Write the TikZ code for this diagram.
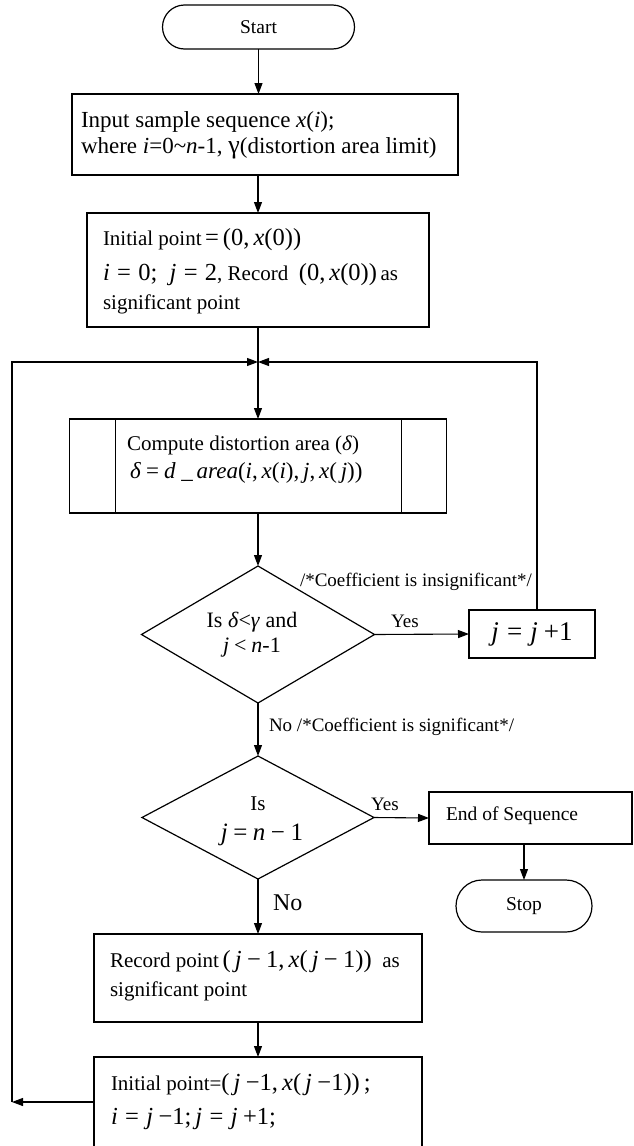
\documentclass[tikz,border=0pt]{standalone}
\usepackage{fontspec}
\setmainfont{Liberation Serif}
\usetikzlibrary{arrows.meta,shapes.geometric}
\newcommand\im[1]{\textit{#1}}
\newcommand\Mth{\fontsize{24.5}{24.5}\selectfont}
\newcommand\sq{\hspace{0.22em}}
\newcommand\wq{\hspace{0.3em}}
\begin{document}
\begin{tikzpicture}[x=1pt,y=-1pt,
  line width=1.1pt,
  every node/.style={inner sep=0pt, outer sep=0pt},
  txt/.style={font=\fontsize{21}{21}\selectfont, anchor=base west},
  lbl/.style={font=\fontsize{19}{19}\selectfont},
  box/.style={draw, rectangle, line width=1.2pt},
  term/.style={draw, rectangle, line width=1.2pt},
  dia/.style={draw, diamond, line width=1.2pt},
  arr/.style={-{Triangle[length=11pt,width=8pt]}}]
\clip (0,0) rectangle (634,1146);

% Start
\node[term, rounded corners=22pt, minimum width=192pt, minimum height=44pt,
      font=\fontsize{19.5}{19.5}\selectfont] (start) at (258.5,27) {Start};

% Input box
\node[box, minimum width=386pt, minimum height=81pt] (input) at (265,134.5) {};
\node[txt, font=\fontsize{23}{23}\selectfont] (in1) at (81,127) {Input sample sequence \im{x}(\im{i});};
\node[txt, font=\fontsize{23}{23}\selectfont] (in2) at (81,153) {where \im{i}=0\textasciitilde\im{n}-1, {\fontsize{26}{26}\selectfont γ}(distortion area limit)};

% Initial box
\node[box, minimum width=342pt, minimum height=114pt] (init) at (258,270) {};
\node[txt] (it1) at (103,245) {Initial point\,{\Mth =\,(0,\,\im{x}(0))}};
\node[txt] (it2) at (103,280) {{\Mth \im{i}\wq=\wq0;\ \ \im{j}\wq=\wq2}, Record\ \ {\Mth (0,\,\im{x}(0))}\,as};
\node[txt] (it3) at (103,309) {significant point};

% junction
\coordinate (junc) at (258,362);

% Compute box
\node[box, minimum width=377pt, minimum height=94pt] (comp) at (258,466) {};
\draw[line width=1.2pt] ([xshift=46pt]comp.north west) -- ([xshift=46pt]comp.south west);
\draw[line width=1.2pt] ([xshift=-45pt]comp.north east) -- ([xshift=-45pt]comp.south east);
\node[txt] (cp1) at (127,450) {Compute distortion area (\im{δ})};
\node[txt, font=\fontsize{23}{23}\selectfont] (cp2) at (130,478) {\im{δ}\sq=\sq\im{d}\ \_\,\im{area}(\im{i},\,\im{x}(\im{i}),\,\im{j},\,\im{x}(\,\im{j}))};

% Decision 1
\node[dia, minimum width=233pt, minimum height=137pt] (d1) at (258,634.5) {};
\node[font=\fontsize{22}{22}\selectfont, anchor=base] (d1a) at (252,627) {Is \im{δ}<\im{γ} and};
\node[font=\fontsize{22}{22}\selectfont, anchor=base] (d1b) at (252,652) {\im{j}\sq<\sq\im{n}-1};
\node[lbl, anchor=base west] (ins) at (300,586) {/*Coefficient is insignificant*/};
\node[lbl, anchor=base] (yes1) at (405,627) {Yes};

% j = j+1
\node[box, minimum width=126pt, minimum height=48pt, font=\fontsize{27}{27}\selectfont] (jbox) at (532,634) {\im{j}\wq=\wq\im{j}\sq+1};
\coordinate (rt) at (537,362);

% label No significant
\node[lbl, anchor=base west] (sig) at (269,731) {No /*Coefficient is significant*/};

% Decision 2
\node[dia, minimum width=232pt, minimum height=123pt] (d2) at (258,817.5) {};
\node[font=\fontsize{21}{21}\selectfont, anchor=base] (d2a) at (258,810) {Is};
\node[font=\fontsize{25}{25}\selectfont, anchor=base] (d2b) at (262,840) {\im{j}\sq=\sq\im{n}\sq−\sq1};
\node[lbl, anchor=base] (yes2) at (385,810) {Yes};

% End of sequence
\node[box, minimum width=203pt, minimum height=52pt] (endb) at (530.5,818) {};
\node[font=\fontsize{19.5}{19.5}\selectfont, anchor=base west] (endt) at (446,820) {End of Sequence};

% Stop
\node[term, rounded corners=26pt, minimum width=136pt, minimum height=52pt,
      font=\fontsize{19.5}{19.5}\selectfont] (stop) at (524,906) {Stop};

% No
\node[font=\fontsize{24}{24}\selectfont, anchor=base west] (no) at (273,910) {No};

% Record box
\node[box, minimum width=328pt, minimum height=88pt] (rec) at (258,978) {};
\node[txt] (rc1) at (110,967) {Record point\,{\Mth (\,\im{j}\sq−\sq1,\,\im{x}(\,\im{j}\sq−\sq1))}\ \ as};
\node[txt] (rc2) at (110,996) {significant point};

% Final box
\node[box, minimum width=328pt, minimum height=103pt] (fin) at (258,1108.5) {};
\node[txt] (fn1) at (111,1090) {Initial point={\Mth (\,\im{j}\sq−1,\,\im{x}(\,\im{j}\sq−1))\,;}};
\node[txt] (fn2) at (111,1124) {{\Mth \im{i}\wq=\wq\im{j}\sq−1;\,\im{j}\wq=\wq\im{j}\sq+1;}};

\coordinate (lb) at (12,1102);
\coordinate (lt) at (12,362);

% connectors
\draw[arr] (start.south) -- (start.south |- input.north);
\draw[arr] (init.north |- input.south) -- (init.north);
\draw (init.south) -- (junc);
\draw[arr] (junc) -- (comp.north);
\draw[arr] (comp.south) -- (d1.north);
\draw[arr] (d1.east) -- (jbox.west);
\draw[arr] (jbox.north -| rt) -- (rt) -- (junc);
\draw[arr] (d1.south) -- (d2.north);
\draw[arr] (d2.east) -- (endb.west);
\draw[arr] (endb.south -| stop.north) -- (stop.north);
\draw[arr] (d2.south) -- (rec.north);
\draw[arr] (rec.south) -- (fin.north);
\draw[arr] (fin.west |- lb) -- (lb);
\draw[arr] (lb) -- (lt) -- (junc);
\end{tikzpicture}
\end{document}
